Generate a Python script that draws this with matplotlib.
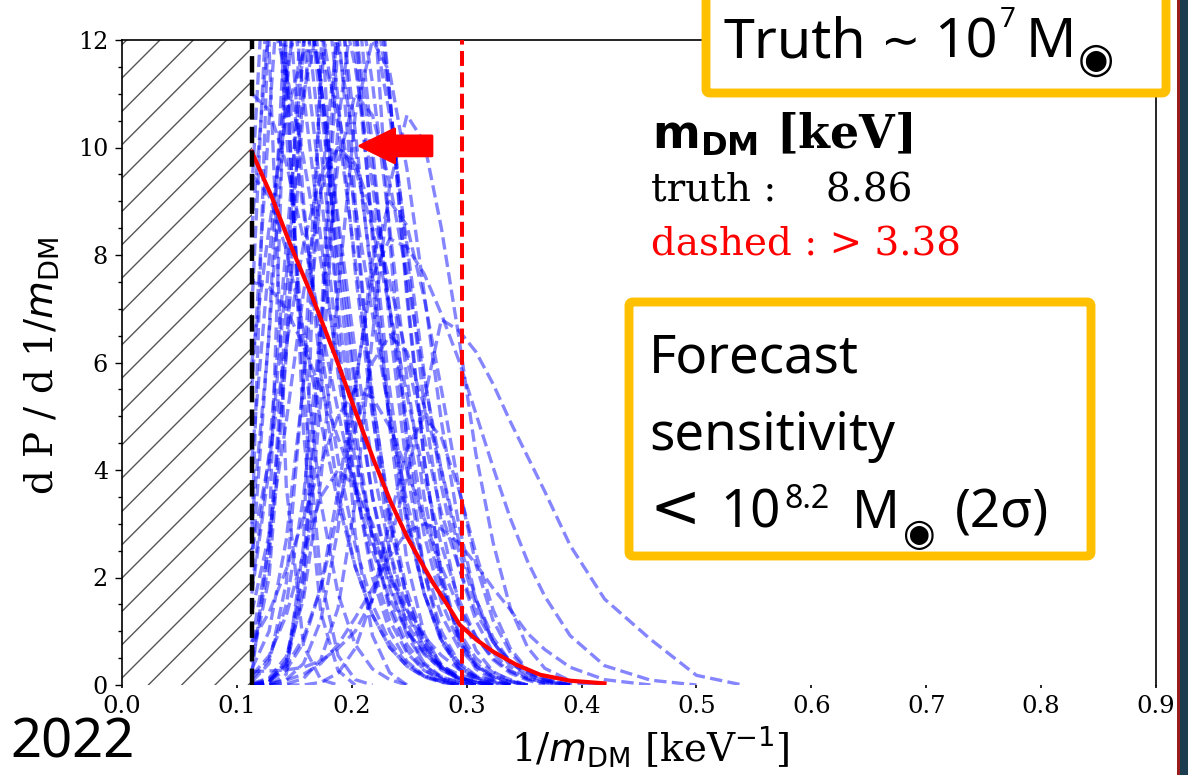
import numpy as np
import matplotlib
matplotlib.use("Agg")
import matplotlib.pyplot as plt
from matplotlib.patches import FancyBboxPatch, Rectangle
from matplotlib.ticker import MultipleLocator
from matplotlib.transforms import IdentityTransform

# ---- data ----
truth_mass = 8.86      # keV
limit_mass = 3.38      # keV

# shared 1/m grid for the posterior samples
x_grid = [0.113, 0.128, 0.143, 0.158, 0.173, 0.188, 0.203, 0.218, 0.233, 0.248, 0.263, 0.278,
          0.293, 0.308, 0.323, 0.338, 0.353, 0.368, 0.39, 0.42, 0.46, 0.50, 0.54]

# samples peaking at the lower edge
edge_curves = [
    [20.9, 17.6, 13.4, 9.0, 5.8, 3.6, 2.2, 1.3, .7, .35, .15, .05],
    [16, 15.4, 13.6, 11.0, 8.3, 5.8, 3.7, 2.2, 1.2, .6, .27, .11, .04],
    [13, 12.6, 11.4, 9.8, 7.9, 6.0, 4.2, 2.9, 1.8, 1.0, .57, .3, .14, .05],
    [20, 15.3, 10.3, 6.3, 3.4, 1.7, .75, .3, .1],
    [11, 10.7, 9.7, 8.3, 6.7, 5.1, 3.6, 2.5, 1.6, 1.0, .6, .35, .2, .1, .04],
    [9.5, 9.1, 8.1, 6.6, 4.9, 3.4, 2.2, 1.3, .7, .35, .16, .07],
    [24, 20, 11.7, 4.7, 1.35, .27],
    [20, 17.3, 11.3, 5.5, 2.0, .55, .1],
    [23.8, 11.9, 3.7, .73, .1],
    [14, 13.2, 11.3, 8.8, 6.3, 4.2, 2.6, 1.5, .8, .4, .18, .07],
    [18, 17.5, 16, 13.6, 10.8, 8.0, 5.5, 3.5, 2.1, 1.15, .6, .28, .12, .05],
    [7.5, 7.4, 7.0, 6.3, 5.5, 4.6, 3.7, 2.8, 2.0, 1.4, .9, .55, .3, .16, .08],
    [16.5, 16.8, 15.5, 13.0, 10.0, 7.0, 4.5, 2.7, 1.5, .75, .35, .15, .05],
    [12, 13.8, 14.2, 13.2, 11.2, 8.7, 6.2, 4.1, 2.5, 1.4, .7, .33, .14, .05],
]

# narrow samples peaking between 0.13 and 0.23
peaked_curves = [
    [14.4, 18, 17.1, 14.6, 11.2, 7.7, 4.8, 2.7, 1.4, .65, .28, .1],
    [7.0, 13.6, 17, 16.2, 14.0, 10.9, 7.7, 5.0, 3.0, 1.6, .8, .35, .14, .05],
    [8.5, 12.3, 14, 13.3, 11.2, 8.5, 5.7, 3.5, 1.9, .92, .41, .15, .05],
    [2.2, 6.6, 12.8, 16, 15.2, 13.1, 10.3, 7.4, 4.9, 3.0, 1.7, .88, .42, .18, .07],
    [4.2, 7.9, 11.4, 13, 12.35, 10.4, 7.9, 5.3, 3.25, 1.75, .86, .38, .14, .05],
    [.42, 2.0, 6.15, 12, 15, 14.2, 12.3, 9.7, 7.0, 4.6, 2.8, 1.55, .8, .38, .16, .06],
    [1.7, 4.0, 7.6, 11, 12.5, 11.9, 10, 7.6, 5.1, 3.1, 1.7, .83, .36, .14, .05],
    [.06, .4, 1.9, 5.7, 11.2, 14, 13.3, 11.2, 8.5, 5.7, 3.5, 1.9, .92, .41, .15, .05],
    [0, .05, .36, 1.75, 5.3, 10.4, 13, 12.4, 10.6, 8.2, 5.8, 3.7, 2.2, 1.2, .6, .27, .11, .04],
    [0, 0, .2, 2.6, 11.6, 19, 17.3, 13.1, 8.3, 4.5, 2.1, .85, .3, .09],
    [.2, 2.7, 12.2, 20, 18.2, 13.9, 9.0, 5.1, 2.5, 1.05, .38, .12],
    [0, .06, .45, 2.2, 6.6, 12.8, 16, 14.5, 11, 7.2, 4.2, 2.1, .9, .35, .12],
    [9.2, 15, 14.3, 12, 9.2, 6.2, 3.75, 2.0, 1.0, .44, .17, .06],
    [2.8, 12.8, 21, 18.5, 12.8, 6.7, 2.8, .92, .23],
    [.48, 2.3, 7.0, 13.6, 17, 15.6, 12.4, 8.3, 4.8, 2.3, .95, .34, .1],
    [.03, .13, .53, 1.6, 3.8, 7.3, 10.6, 12, 11.4, 9.6, 7.3, 4.9, 3.0, 1.6, .8, .35, .13, .04],
    [.12, .48, 1.5, 3.5, 6.7, 9.7, 11, 10.6, 9.35, 7.6, 5.7, 4.0, 2.5, 1.5, .8, .41, .19, .08],
    [1.35, 2.8, 4.9, 7.3, 9.2, 10, 9.7, 8.8, 7.5, 6.1, 4.6, 3.2, 2.2, 1.35, .8, .44, .23, .11, .03],
    [0, 0, .1, .4, 1.2, 2.9, 5.5, 7.9, 9, 8.55, 7.2, 5.5, 3.7, 2.25, 1.2, .6, .26, .1],
    [1.8, 4.3, 8.2, 11.9, 13.5, 13, 11.5, 9.3, 7.0, 4.9, 3.1, 1.8, 1.0, .5, .23, .1],
    [0, .06, .42, 2.0, 6.15, 12, 15, 13.8, 11, 7.35, 4.2, 2.0, .84, .3, .09],
    [5.5, 10.5, 15, 17, 15.5, 12.3, 8.6, 5.4, 3.1, 1.6, .75, .3, .1],
    [3.0, 6.5, 11, 14.5, 15.8, 14.6, 11.8, 8.5, 5.5, 3.2, 1.7, .8, .33, .12],
    [.8, 2.6, 6.2, 10.8, 14.2, 15.0, 13.2, 10.0, 6.7, 4.0, 2.1, 1.0, .42, .15],
    [6.0, 8.5, 10.6, 11.8, 11.8, 10.7, 8.9, 6.9, 5.0, 3.4, 2.2, 1.3, .7, .35, .16, .06],
    [2.5, 4.2, 6.3, 8.2, 9.5, 10.0, 9.6, 8.5, 7.0, 5.4, 3.9, 2.6, 1.6, .9, .47, .22, .09],
    [.3, 1.0, 2.7, 5.6, 9.2, 12.2, 13.6, 13.0, 10.9, 8.0, 5.2, 3.0, 1.5, .65, .25, .08],
]

# lower, broader samples
broad_curves = [
    [0, 0, .02, .12, .47, 1.43, 3.4, 6.5, 9.3, 10.6, 10.1, 8.5, 6.5, 4.3, 2.65, 1.43, .7, .31, .08],
    [.02, .08, .28, .79, 1.8, 3.6, 5.6, 7.6, 8.3, 8.15, 7.65, 6.9, 6.05, 5.05, 4.05, 3.1, 2.3, 1.65, .92, .36, .09],
    [.25, .26, .28, .33, .45, .68, 1.0, 1.6, 2.6, 3.9, 5.3, 6.8, 6.6, 6.2, 5.6, 4.9, 4.25, 3.6, 2.6, 1.6, .85, .18],
    [.8, 1.35, 2.15, 3.1, 4.1, 5.0, 5.5, 5.35, 4.8, 4.0, 3.1, 2.2, 1.45, .9, .5, .25, .12, .05],
    [.18, .54, 1.3, 2.45, 3.5, 4.0, 3.7, 3.0, 2.1, 1.3, .69, .32, .13, .04],
    [0, 0, 0, 0, .05, .22, .68, 1.6, 3.05, 4.4, 5, 4.6, 3.65, 2.45, 1.4, .68, .28, .1],
    [0, .12, .36, .88, 1.8, 3.2, 4.75, 6.0, 6.5, 6.2, 5.2, 4.0, 2.7, 1.6, .88, .43, .19, .07],
    [0, .03, .09, .2, .4, .75, 1.25, 1.8, 2.4, 2.85, 3, 2.9, 2.65, 2.25, 1.8, 1.4, .96, .66, .33, .1],
]

# stacked posterior (red)
red_x = [0.113, 0.13, 0.146, 0.166, 0.186, 0.203, 0.219, 0.234, 0.248, 0.26, 0.271, 0.283,
         0.294, 0.308, 0.323, 0.343, 0.364, 0.39, 0.42]
red_y = [9.92, 9.1, 8.22, 7.2, 6.1, 5.1, 4.19, 3.4, 2.76, 2.3, 1.89, 1.5,
         1.12, 0.85, 0.62, 0.38, 0.19, 0.08, 0.03]

# ---- figure ----
W, H = 1188, 775
DPI = 200
plt.rcParams['font.family'] = 'DejaVu Serif'
plt.rcParams['mathtext.fontset'] = 'dejavusans'
plt.rcParams['hatch.linewidth'] = 0.5

fig = plt.figure(figsize=(W / DPI, H / DPI), dpi=DPI)
ax = fig.add_axes([122 / W, 1 - 685 / H, (1156 - 122) / W, (685 - 40) / H])

ax.axvspan(0, 1 / truth_mass, facecolor='none', edgecolor='#555555', hatch='//', lw=0, zorder=1)

for c in edge_curves + peaked_curves + broad_curves:
    n = min(len(c) + 1, len(x_grid))
    y = (c + [0])[:n]
    ax.plot(x_grid[:n], y, ls='--', color='blue', alpha=0.48, lw=1.2, zorder=2)

ax.plot(red_x, red_y, color='red', lw=1.5, zorder=3)
ax.axvline(1 / truth_mass, color='black', ls='--', lw=1.6, zorder=4)
ax.axvline(1 / limit_mass, color='red', ls='--', lw=1.45, zorder=4)

ax.annotate('', xy=(0.2071, 10.03), xytext=(0.2698, 10.03),
            arrowprops=dict(arrowstyle='simple,head_length=1.25,head_width=1.22,tail_width=0.72',
                            color='red', shrinkA=0, shrinkB=0, mutation_scale=10), zorder=5)

ax.set_xlim(0, 0.9)
ax.set_ylim(0, 12)
ax.xaxis.set_major_locator(MultipleLocator(0.1))
ax.yaxis.set_major_locator(MultipleLocator(2))
ax.yaxis.set_minor_locator(MultipleLocator(0.5))
ax.tick_params(axis='y', which='major', direction='out', length=2.5, width=0.5, labelsize=8.6, pad=2.5)
ax.tick_params(axis='y', which='minor', direction='out', length=1.5, width=0.5)
ax.tick_params(axis='x', which='major', direction='out', length=1.2, width=0.6, labelsize=8.8, pad=2.5)
for s in ['top', 'left', 'right']:
    ax.spines[s].set_linewidth(0.6)
ax.spines['bottom'].set_visible(False)

ax.set_xlabel(r'1/$m_{\rm DM}$ [keV$^{-1}$]', fontsize=14)
ax.xaxis.set_label_coords((650 - 122) / 1034, -0.062)
ax.set_ylabel(r'd P / d 1/$m_{\rm DM}$', fontsize=14)
ax.yaxis.set_label_coords((62 - 122) / 1034, 0.495)

# info text
fig.text(652 / W, 1 - 148 / H, r'$\mathbf{m_{DM}}$ [keV]', fontsize=16.5, fontweight='bold', va='baseline')
fig.text(651 / W, 1 - 202 / H, 'truth :    8.86', fontsize=14, va='baseline')
fig.text(651 / W, 1 - 256 / H, 'dashed : > 3.38', fontsize=14, va='baseline', color='red')

# orange boxes
ident = IdentityTransform()
for x0, x1, y0, y1 in [(706, 1166, -20, 93), (629, 1091, 302, 556)]:
    fig.patches.append(FancyBboxPatch((x0, H - y1), x1 - x0, y1 - y0,
                                      boxstyle='round,pad=0,rounding_size=4',
                                      facecolor='white', edgecolor='#FFC000', lw=3.2,
                                      transform=ident, figure=fig, zorder=4))

renderer = fig.canvas.get_renderer()
sans = ['Noto Sans', 'DejaVu Sans']


def put_run(x, base, parts):
    # parts: text, size, vertical shift (px, down positive), gap before (px), family
    for s, size, dy, gap, fam in parts:
        x += gap
        t = fig.text(x / W, 1 - (base + dy) / H, s, fontsize=size, family=fam,
                     va='baseline', ha='left', zorder=6)
        x = t.get_window_extent(renderer).x1


put_run(724, 57, [('Truth', 20, 0, 0, sans), ('\u223c', 17, 0, 14, ['DejaVu Sans']),
                  ('10', 20, 0, 14, sans), ('7', 10, -30, 2, sans),
                  ('M', 20, 0, 10, sans), ('\u25c9', 15, 15, 2, ['DejaVu Sans'])])

fig.text(649 / W, 1 - 373 / H, 'Forecast', fontsize=19, family=sans, va='baseline', zorder=6)
fig.text(649 / W, 1 - 450 / H, 'sensitivity', fontsize=19, family=sans, va='baseline', zorder=6)
put_run(649, 528, [('<', 22, -1, 0, ['DejaVu Sans']), ('10', 19, 0, 20, sans),
                   ('8.2', 11.5, -20, 4, sans), ('M', 19, 0, 22, sans),
                   ('\u25c9', 13.5, 17, 3, ['DejaVu Sans']), ('(2\u03c3)', 19, 0, 20, sans)])

fig.text(10 / W, 4 / H, '2022', fontsize=19.5, family=sans, va='bottom')

# right edge strip
fig.patches.append(Rectangle((1177, 0), 2.5, H, facecolor='#9b1c1c', lw=0,
                             transform=ident, figure=fig, zorder=7))
fig.patches.append(Rectangle((1179.5, 0), 9, H, facecolor='#1b3d4f', lw=0,
                             transform=ident, figure=fig, zorder=7))

fig.savefig('out.png', dpi=DPI)
